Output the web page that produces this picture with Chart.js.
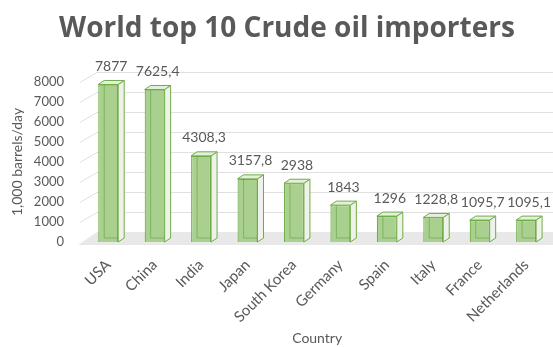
<!DOCTYPE html>
<html>
<head>
<meta charset="utf-8">
<script src="https://cdn.jsdelivr.net/npm/chart.js@4"></script>
<style>
  html, body { margin: 0; padding: 0; background: #fff; }
  #wrap { width: 553px; height: 347px; position: relative; }
</style>
</head>
<body>
<div id="wrap"><canvas id="oilChart"></canvas></div>
<script>
// data
const countries = ['USA', 'China', 'India', 'Japan', 'South Korea', 'Germany', 'Spain', 'Italy', 'France', 'Netherlands'];
const imports = [7877, 7625.4, 4308.3, 3157.8, 2938, 1843, 1296, 1228.8, 1095.7, 1095.1];
const yTicks = [0, 1000, 2000, 3000, 4000, 5000, 6000, 7000, 8000];
const chartTitle = 'World top 10 Crude oil importers';

const grey = '#595959';
const fontFamily = 'Lato, "Open Sans", sans-serif';
const depth = { dx: 6, dy: 4 };

// excel style labels "7625,4"
function fmt(v) {
    return String(v).replace('.', ',');
}

// title is centred a bit right of the canvas middle, like excel does it
const titlePlugin = {
    id: 'excelTitle',
    afterDraw(chart) {
        const { ctx } = chart;
        ctx.save();
        ctx.fillStyle = grey;
        ctx.font = 'bold 28px "Open Sans", Lato, sans-serif';
        ctx.textAlign = 'center';
        ctx.textBaseline = 'alphabetic';
        ctx.fillText(chartTitle, 287, 37);
        ctx.restore();
    }
};

// back wall, floor and the 3d parts of the bars
const fake3d = {
    id: 'fake3d',
    beforeDatasetsDraw(chart) {
        const { ctx, chartArea, scales } = chart;
        const y = scales.y;
        const left = chartArea.left;
        const right = chart.width;
        const base = y.getPixelForValue(0);
        ctx.save();
        // floor
        ctx.fillStyle = '#e8e8e8';
        ctx.beginPath();
        ctx.moveTo(left - 7, base + 3);
        ctx.lineTo(left + 12, base - 10);
        ctx.lineTo(right, base - 10);
        ctx.lineTo(right, base + 3);
        ctx.closePath();
        ctx.fill();
        // gridlines
        ctx.strokeStyle = '#e0e0e0';
        ctx.lineWidth = 1;
        yTicks.forEach(t => {
            if (t === 0) return;
            const py = Math.round(y.getPixelForValue(t)) + 0.5;
            ctx.beginPath();
            ctx.moveTo(left - 5, py);
            ctx.lineTo(left + 12, py - 10);
            ctx.lineTo(right, py - 10);
            ctx.stroke();
        });
        ctx.restore();
    },
    afterDatasetsDraw(chart) {
        const { ctx } = chart;
        const meta = chart.getDatasetMeta(0);
        const { dx, dy } = depth;
        ctx.save();
        ctx.lineWidth = 1;
        meta.data.forEach((bar, i) => {
            const { x, y, base, width } = bar.getProps(['x', 'y', 'base', 'width'], true);
            const l = x - width / 2;
            const r = x + width / 2;

            // hidden edges seen through the front face
            ctx.strokeStyle = 'rgba(90,150,55,0.5)';
            ctx.beginPath();
            ctx.moveTo(l + dx, y - dy);
            ctx.lineTo(l + dx, base - dy);
            ctx.lineTo(r + dx, base - dy);
            ctx.stroke();

            // side face
            ctx.fillStyle = '#eef2ea';
            ctx.strokeStyle = '#70ad47';
            ctx.beginPath();
            ctx.moveTo(r, y);
            ctx.lineTo(r + dx, y - dy);
            ctx.lineTo(r + dx, base - dy);
            ctx.lineTo(r, base);
            ctx.closePath();
            ctx.fill();
            ctx.stroke();

            // top face
            ctx.fillStyle = '#e4f0dc';
            ctx.beginPath();
            ctx.moveTo(l, y);
            ctx.lineTo(l + dx, y - dy);
            ctx.lineTo(r + dx, y - dy);
            ctx.lineTo(r, y);
            ctx.closePath();
            ctx.fill();
            ctx.stroke();

            // value label
            ctx.fillStyle = grey;
            ctx.font = '14px ' + fontFamily;
            ctx.textAlign = 'center';
            ctx.textBaseline = 'middle';
            ctx.fillText(fmt(imports[i]), x + dx / 2, y - 18);
        });
        ctx.restore();
    }
};

const chart = new Chart(document.getElementById('oilChart'), {
    type: 'bar',
    data: {
        labels: countries,
        datasets: [{
            label: '1,000 barrels/day',
            data: imports,
            backgroundColor: '#a9d08e',
            borderColor: '#70ad47',
            borderWidth: 1.2,
            categoryPercentage: 0.86,
            barPercentage: 0.5
        }]
    },
    options: {
        responsive: true,
        maintainAspectRatio: false,
        animation: false,
        layout: { padding: { left: 0, right: 3, top: 82, bottom: 0 } },
        plugins: {
            legend: { display: false },
            tooltip: { enabled: false },
            title: { display: false }
        },
        scales: {
            x: {
                grid: { display: false, drawTicks: false },
                border: { display: false },
                ticks: {
                    color: grey,
                    font: { family: fontFamily, size: 15 },
                    minRotation: 45,
                    maxRotation: 45,
                    padding: 14
                },
                title: {
                    display: true,
                    text: 'Country',
                    color: grey,
                    font: { family: fontFamily, size: 14 },
                    padding: { top: 0, bottom: 0 }
                },
                afterFit(scale) { scale.height = 105; }
            },
            y: {
                min: 0,
                max: 8000,
                grid: { display: false, drawTicks: false },
                border: { display: false },
                afterBuildTicks(scale) {
                    scale.ticks = yTicks.map(v => ({ value: v }));
                },
                ticks: {
                    color: grey,
                    font: { family: fontFamily, size: 13 },
                    padding: 21,
                    callback: v => String(v)
                },
                title: {
                    display: true,
                    text: '1,000 barrels/day',
                    color: grey,
                    font: { family: fontFamily, size: 14 },
                    padding: { top: 9, bottom: 0 }
                },
                afterFit(scale) { scale.width = 85; }
            }
        }
    },
    plugins: [fake3d, titlePlugin]
});
</script>
</body>
</html>
